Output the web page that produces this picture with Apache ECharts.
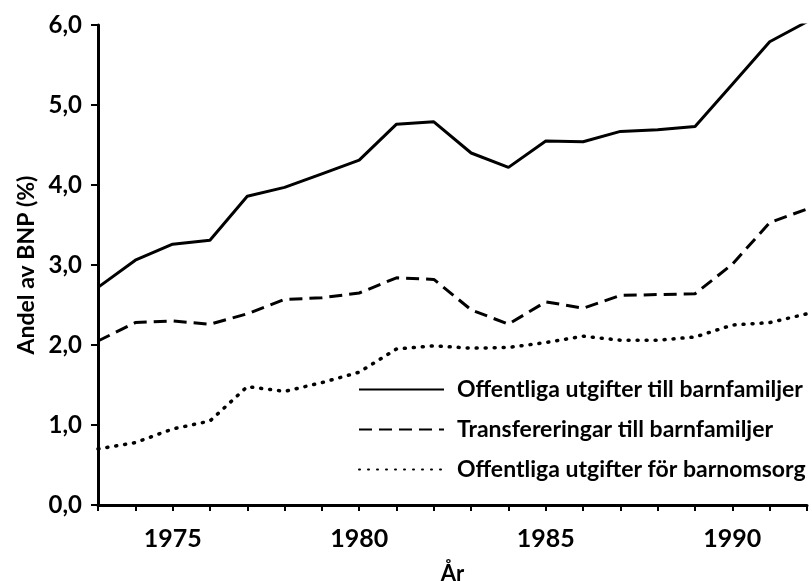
<!DOCTYPE html>
<html>
<head>
<meta charset="utf-8">
<script src="https://cdn.jsdelivr.net/npm/echarts@6/dist/echarts.min.js"></script>
<style>
  html, body { margin: 0; padding: 0; background: #fff; }
  #chart { width: 812px; height: 581px; }
</style>
</head>
<body>
<div id="chart"></div>
<script>
// år 1973-1992
const years = [1973, 1974, 1975, 1976, 1977, 1978, 1979, 1980, 1981, 1982,
  1983, 1984, 1985, 1986, 1987, 1988, 1989, 1990, 1991, 1992];
const utgifterBarnfamiljer = [2.72, 3.06, 3.26, 3.31, 3.86, 3.97, 4.14, 4.31, 4.76, 4.79,
  4.40, 4.22, 4.55, 4.54, 4.67, 4.69, 4.73, 5.26, 5.79, 6.04];
const transfereringar = [2.05, 2.28, 2.30, 2.26, 2.39, 2.57, 2.59, 2.65, 2.84, 2.82,
  2.44, 2.26, 2.54, 2.46, 2.62, 2.63, 2.64, 3.01, 3.53, 3.70];
const barnomsorg = [0.70, 0.78, 0.95, 1.05, 1.48, 1.42, 1.53, 1.66, 1.95, 1.99,
  1.96, 1.97, 2.03, 2.11, 2.06, 2.06, 2.10, 2.25, 2.28, 2.39];
const seriesNames = ['Offentliga utgifter till barnfamiljer', 'Transfereringar till barnfamiljer',
  'Offentliga utgifter för barnomsorg'];

const fontFamily = 'Lato';
const chart = echarts.init(document.getElementById('chart'));

function toPairs(values) {
  return values.map((v, i) => [years[i], v]);
}

const option = {
  animation: false,
  backgroundColor: '#fff',
  textStyle: { fontFamily: fontFamily, color: '#000' },
  grid: { left: 98, right: 5, top: 25, bottom: 76, outerBoundsMode: 'none' },
  legend: {
    orient: 'vertical',
    left: 353,
    top: 373,
    itemWidth: 85,
    itemHeight: 16,
    itemGap: 17,
    data: seriesNames,
    itemStyle: { opacity: 0, borderWidth: 0 },
    textStyle: { fontSize: 23, fontWeight: 'bold', color: '#000', fontFamily: fontFamily, padding: [0, 0, 0, 8] },
  },
  xAxis: {
    type: 'value',
    min: 1973,
    max: 1992,
    interval: 1,
    name: 'År',
    nameLocation: 'middle',
    nameGap: 58,
    nameTextStyle: { fontSize: 22, fontWeight: 'bold', color: '#000' },
    splitLine: { show: false },
    axisLine: { lineStyle: { color: '#000', width: 3 } },
    axisTick: { inside: false, length: 6, lineStyle: { color: '#000', width: 2 } },
    axisLabel: {
      fontSize: 25,
      fontWeight: 'bold',
      color: '#000',
      margin: 21,
      formatter: (v) => (v % 5 === 0 ? String(v) : ''),
    },
  },
  yAxis: {
    type: 'value',
    min: 0,
    max: 6,
    interval: 1,
    name: 'Andel av BNP (%)',
    nameLocation: 'middle',
    nameGap: 55,
    nameTextStyle: { fontSize: 23, fontWeight: 'bold', color: '#000' },
    splitLine: { show: false },
    axisLine: { show: true, lineStyle: { color: '#000', width: 3 } },
    axisTick: { show: true, length: 7, lineStyle: { color: '#000', width: 2 } },
    axisLabel: {
      fontSize: 24,
      fontWeight: 'bold',
      color: '#000',
      margin: 16,
      formatter: (v) => v.toFixed(1).replace('.', ','),
    },
  },
  series: [
    {
      name: seriesNames[0],
      type: 'line',
      data: toPairs(utgifterBarnfamiljer),
      symbol: 'none',
      lineStyle: { color: '#000', width: 3, type: 'solid' },
      itemStyle: { color: '#000' },
    },
    {
      name: seriesNames[1],
      type: 'line',
      data: toPairs(transfereringar),
      symbol: 'none',
      lineStyle: { color: '#000', width: 3, type: [13, 7] },
      itemStyle: { color: '#000' },
    },
    {
      name: seriesNames[2],
      type: 'line',
      data: toPairs(barnomsorg),
      symbol: 'none',
      lineStyle: { color: '#000', width: 3.5, type: [1, 8], cap: 'round' },
      itemStyle: { color: '#000' },
    },
  ],
};

chart.setOption(option);
</script>
</body>
</html>
